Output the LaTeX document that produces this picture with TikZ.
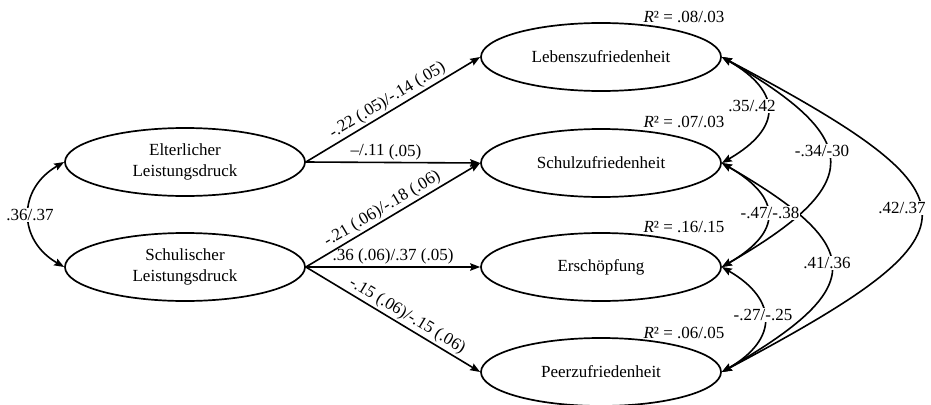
\documentclass[tikz,border=0pt]{standalone}
\usepackage{fontspec}
\setmainfont{Liberation Serif}
\usetikzlibrary{shapes.geometric,arrows.meta}

\begin{document}
\begin{tikzpicture}[x=1pt, y=1pt, line cap=round, line join=round, font=\fontsize{17}{21}\selectfont, >={Stealth[length=10pt,width=7.5pt,inset=1.5pt]}, line width=1.6pt]
	\tikzset{var/.style={draw, ellipse, minimum width=240pt, minimum height=68pt, inner sep=0pt, align=center, line width=1.7pt}}
	\tikzset{lbl/.style={above, sloped, inner sep=2pt}}
	\tikzset{cor/.style={fill=white, inner sep=1pt}}
	\useasboundingbox (0,0) rectangle (931,-404);
	% predictors
	\node[var] (el) at (185,-162) {Elterlicher\\Leistungsdruck};
	\node[var] (sl) at (185,-267) {Schulischer\\Leistungsdruck};
	% outcomes
	\node[var] (lz) at (601,-57) {Lebenszufriedenheit};
	\node[var] (sz) at (601,-163) {Schulzufriedenheit};
	\node[var] (er) at (601,-267) {Erschöpfung};
	\node[var] (pz) at (601,-372) {Peerzufriedenheit};
	\node (lzr) at ([shift={(83,40)}]lz.center) {\textit{R}² = .08/.03};
	\node (szr) at ([shift={(83,41)}]sz.center) {\textit{R}² = .07/.03};
	\node (err) at ([shift={(83,40)}]er.center) {\textit{R}² = .16/.15};
	\node (pzr) at ([shift={(83,39)}]pz.center) {\textit{R}² = .06/.05};
	% paths
	\draw[->] (el.east) -- node[lbl] (p1) {-.22 (.05)/-.14 (.05)} (lz.west);
	\draw[->] (el.east) -- node[lbl, pos=0.46] (p2) {–/.11 (.05)} (sz.west);
	\draw[->] (sl.east) -- node[lbl, pos=0.47] (p3) {-.21 (.06)/-.18 (.06)} (sz.west);
	\draw[->] (sl.east) -- node[lbl] (p4) {.36 (.06)/.37 (.05)} (er.west);
	\draw[->] (sl.east) -- node[lbl, pos=0.55] (p5) {-.15 (.06)/-.15 (.06)} (pz.west);
	% correlations
	\draw[<->] (el.west) .. controls +(210:54) and +(150:54) .. (sl.west);
	\node[cor] (c0) at (30,-215) {.36/.37};
	\draw[<->] (lz.east) .. controls +(-28:300) and +(28:300) .. (pz.east);
	\draw[<->] (lz.east) .. controls +(-30:165) and +(30:165) .. (er.east);
	\draw[<->] (sz.east) .. controls +(-30:168) and +(30:168) .. (pz.east);
	\draw[<->] (lz.east) .. controls +(-30:70) and +(30:70) .. (sz.east);
	\draw[<->] (sz.east) .. controls +(-30:70) and +(30:70) .. (er.east);
	\draw[<->] (er.east) .. controls +(-30:65) and +(30:65) .. (pz.east);
	\node[cor] (c1) at (752,-106) {.35/.42};
	\node[cor] (c2) at (822,-151) {-.34/-30};
	\node[cor] (c3) at (902,-208) {.42/.37};
	\node[cor] (c4) at (770,-213) {-.47/-.38};
	\node[cor] (c5) at (827,-263) {.41/.36};
	\node[cor] (c6) at (763,-315) {-.27/-.25};
\end{tikzpicture}
\end{document}
